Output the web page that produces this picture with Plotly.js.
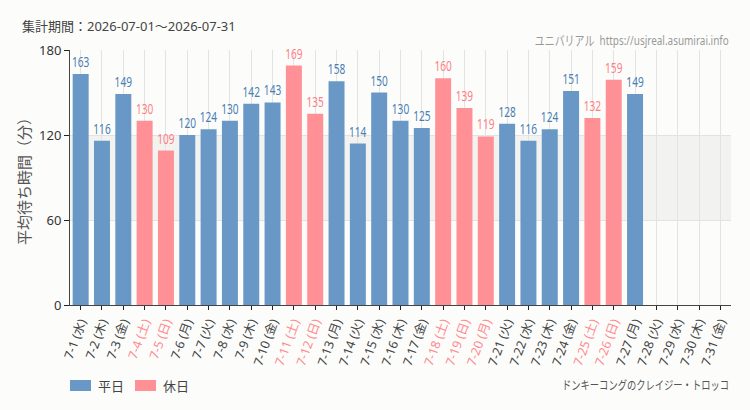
<!DOCTYPE html>
<html><head><meta charset="utf-8">
<script src="https://cdn.plot.ly/plotly-3.0.1.min.js"></script>
<style>body{margin:0;background:#fcfdfb}</style>
</head><body><div id="chart" style="width:750px;height:410px"></div>
<script>
const days = ["7-1","7-2","7-3","7-4","7-5","7-6","7-7","7-8","7-9","7-10","7-11","7-12","7-13","7-14","7-15","7-16","7-17","7-18","7-19","7-20","7-21","7-22","7-23","7-24","7-25","7-26","7-27","7-28","7-29","7-30","7-31"];
const weekdays = ["水","木","金","土","日","月","火","水","木","金","土","日","月","火","水","木","金","土","日","月","火","水","木","金","土","日","月","火","水","木","金"];
const holiday = [0,0,0,1,1,0,0,0,0,0,1,1,0,0,0,0,0,1,1,1,0,0,0,0,1,1,0,0,0,0,0];
const waits = [163,116,149,130,109,120,124,130,142,143,169,135,158,114,150,130,125,160,139,119,128,116,124,151,132,159,149,null,null,null,null];
const seriesNames = ["平日","休日"];

const BLUE = "#6a98c6", PINK = "#ff9196";
const labels = days.map((d,i)=> `${d} (${weekdays[i]})`);
const tickText = labels.map((t,i)=> holiday[i] ? `<span style="color:#ff8a8f">${t}</span>` : t);
const wk = waits.map((v,i)=> holiday[i] ? null : v);
const hd = waits.map((v,i)=> holiday[i] ? v : null);
const labFont = {family:"Noto Sans, sans-serif", size:15};

const traces = [
 {type:"bar", name:seriesNames[0], x:labels, y:wk, marker:{color:BLUE}, text:wk.map(v=>v==null?"":String(v)),
  textposition:"outside", constraintext:"none", textfont:Object.assign({color:"#4a7db3"},labFont), cliponaxis:false, hoverinfo:"none", showlegend:false},
 {type:"bar", name:seriesNames[1], x:labels, y:hd, marker:{color:PINK}, text:hd.map(v=>v==null?"":String(v)),
  textposition:"outside", constraintext:"none", textfont:Object.assign({color:"#ff7d83"},labFont), cliponaxis:false, hoverinfo:"none", showlegend:false}
];

const layout = {
 width:750, height:410,
 margin:{l:70, r:19, t:50, b:105},
 paper_bgcolor:"#fcfdfb", plot_bgcolor:"#fcfdfb",
 barmode:"overlay", bargap:0.25,
 font:{family:"Noto Sans, Noto Sans CJK JP, sans-serif", color:"#444"},
 xaxis:{type:"category", categoryorder:"array", categoryarray:labels, tickvals:labels, ticktext:tickText,
   tickangle:-70, ticks:"outside", ticklen:4, tickcolor:"#222", showline:true, linecolor:"#444", linewidth:1,
   showgrid:true, gridcolor:"#e3e3e3", tickfont:{size:12.5, color:"#444"}, fixedrange:true},
 yaxis:{range:[0,180], tickvals:[0,60,120,180], ticks:"outside", ticklen:5, tickcolor:"#222", showline:true, linecolor:"#444",
   gridcolor:"#e3e3e3", zeroline:false, tickfont:{size:13, color:"#333"},
   title:{text:"平均待ち時間（分）", font:{size:15, color:"#555"}, standoff:4}, fixedrange:true},
 shapes:[
  {type:"rect", xref:"paper", yref:"y", x0:0, x1:1, y0:60, y1:120, fillcolor:"#f2f3f1", line:{width:0}, layer:"below"},
  {type:"rect", xref:"paper", yref:"paper", x0:0, x1:0.0318, y0:-0.3373, y1:-0.2941, fillcolor:BLUE, line:{width:0}},
  {type:"rect", xref:"paper", yref:"paper", x0:0.0983, x1:0.1301, y0:-0.3373, y1:-0.2941, fillcolor:PINK, line:{width:0}}
 ],
 showlegend:false,
 annotations:[
  {xref:"paper", yref:"paper", x:0.0393, y:-0.3157, xanchor:"left", yanchor:"middle", showarrow:false,
   text:seriesNames[0], font:{size:13, color:"#444"}},
  {xref:"paper", yref:"paper", x:0.1377, y:-0.3157, xanchor:"left", yanchor:"middle", showarrow:false,
   text:seriesNames[1], font:{size:13, color:"#444"}},
  {xref:"paper", yref:"paper", x:-0.0756, y:1.094, xanchor:"left", yanchor:"middle", showarrow:false,
   text:"集計期間：2026-07-01～2026-07-31", font:{size:13, color:"#444"}},
  {xref:"paper", yref:"paper", x:1, y:1.039, xanchor:"right", yanchor:"middle", showarrow:false,
   text:"ユニバリアル  https://usjreal.asumirai.info", font:{size:13, color:"#999"}},
  {xref:"paper", yref:"paper", x:1, y:-0.314, xanchor:"right", yanchor:"middle", showarrow:false,
   text:"ドンキーコングのクレイジー・トロッコ", font:{size:12, color:"#555"}}
 ]
};
function squeeze(el, w){
  el.setAttribute("textLength", w);
  el.setAttribute("lengthAdjust", "spacingAndGlyphs");
}
Plotly.newPlot("chart", traces, layout, {displayModeBar:false, staticPlot:true}).then(gd=>{
  gd.querySelectorAll("text.bartext").forEach(t=>{
    const s = t.textContent.trim();
    if (s) squeeze(t, s.length*5.8);
  });
  gd.querySelectorAll("g.annotation").forEach(a=>{
    const t = a.querySelector("text.annotation-text");
    if (!t) return;
    const bb = t.getBBox();
    if (t.textContent.startsWith("ユニバリアル")) {
      const right = bb.x + bb.width;
      t.setAttribute("text-anchor","end");
      t.setAttribute("x", right);
      squeeze(t, 194);
    } else if (t.textContent.startsWith("ドンキー")) {
      const right = bb.x + bb.width;
      t.setAttribute("text-anchor","end");
      t.setAttribute("x", right);
      squeeze(t, 167);
    }
  });
});
</script></body></html>
